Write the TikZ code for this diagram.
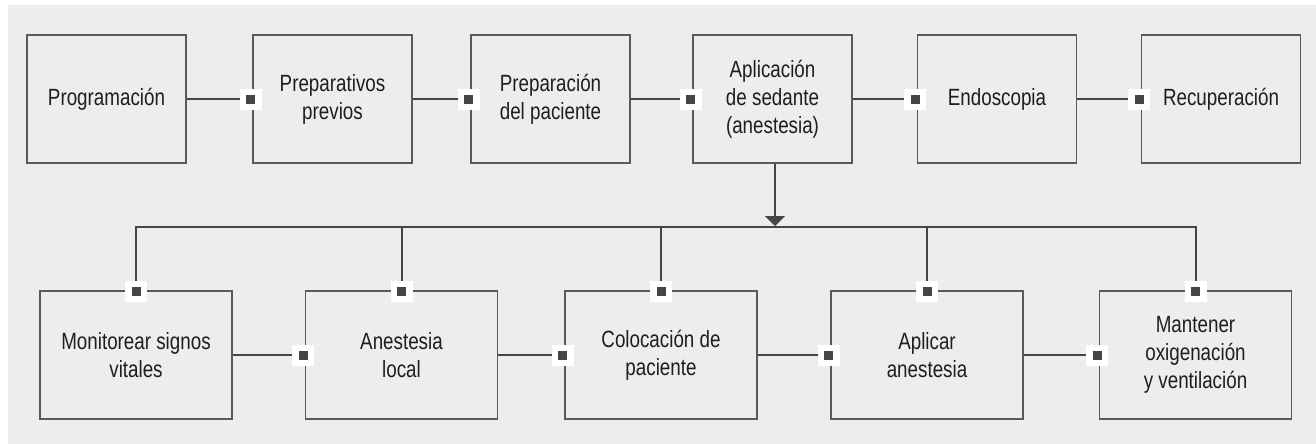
\documentclass[tikz,border=0pt]{standalone}
\usepackage{fontspec}
\setmainfont{Liberation Sans}[FakeStretch=0.8]
\usetikzlibrary{arrows.meta}
\definecolor{bgc}{HTML}{EDEDED}
\definecolor{boxc}{HTML}{5A5A5A}
\definecolor{linec}{HTML}{454545}
\definecolor{txtc}{HTML}{1E1E1E}
\tikzset{
  stepbox/.style={draw=boxc, line width=1.5pt, fill=bgc, inner sep=0pt, align=center,
    text=txtc, font=\fontsize{23.5}{28}\selectfont},
  topbox/.style={stepbox, minimum width=159pt, minimum height=128pt},
  botbox/.style={stepbox, minimum width=192pt, minimum height=128pt},
  conn/.style={draw=linec, line width=2pt},
  marker/.style={fill=white, minimum width=22pt, minimum height=21pt, inner sep=0pt,
    path picture={\fill[linec] ([xshift=-4.5pt,yshift=-4.5pt]path picture bounding box.center) rectangle ++(9pt,9pt);}},
}
\begin{document}
\begin{tikzpicture}[x=1pt,y=-1pt]
\useasboundingbox (0,0) rectangle (1316,444);
\fill[white] (0,0) rectangle (1316,444);
\fill[bgc] (8,5) rectangle (1316,444);

% top row
\node[topbox] (a1) at (106.5,99) {Programación};
\node[topbox] (a2) at (332.5,99) {Preparativos\\previos};
\node[topbox] (a3) at (550.5,99) {Preparación\\del paciente};
\node[topbox] (a4) at (772.5,99) {Aplicación\\de sedante\\(anestesia)};
\node[topbox] (a5) at (997,99) {Endoscopia};
\node[topbox] (a6) at (1221,99) {Recuperación};

% bottom row
\node[botbox] (b1) at (136,355) {Monitorear signos\\vitales};
\node[botbox] (b2) at (401.5,355) {Anestesia\\local};
\node[botbox] (b3) at (661,355) {Colocación de\\paciente};
\node[botbox] (b4) at (927,355) {Aplicar\\anestesia};
\node[botbox] (b5) at (1195.5,355) {Mantener\\oxigenación\\y ventilación};

\coordinate (bus) at (775,227);

% top connectors
\foreach \s/\t in {a1/a2,a2/a3,a3/a4,a4/a5,a5/a6} {
  \draw[conn] (\s.east) -- (\t.west);
}
% bottom connectors
\foreach \s/\t in {b1/b2,b2/b3,b3/b4,b4/b5} {
  \draw[conn] (\s.east) -- (\t.west);
}

% down arrow to bus
\draw[conn, -{Triangle[width=20pt,length=10pt]}, shorten >=1pt] (a4.south -| bus) -- (bus);
% bus
\draw[conn] (b1.north) -- (b1.north |- bus) -- (b5.north |- bus) -- (b5.north);
\foreach \b in {b2,b3,b4} {
  \draw[conn] (\b.north) -- (\b.north |- bus);
}

% markers
\foreach \t in {a2,a3,a4,a5,a6,b2,b3,b4,b5} {
  \node[marker] at ([xshift=-1.5pt]\t.west) {};
}
\foreach \t in {b1,b2,b3,b4,b5} {
  \node[marker] at ([yshift=-1pt]\t.north) {};
}
\end{tikzpicture}
\end{document}
